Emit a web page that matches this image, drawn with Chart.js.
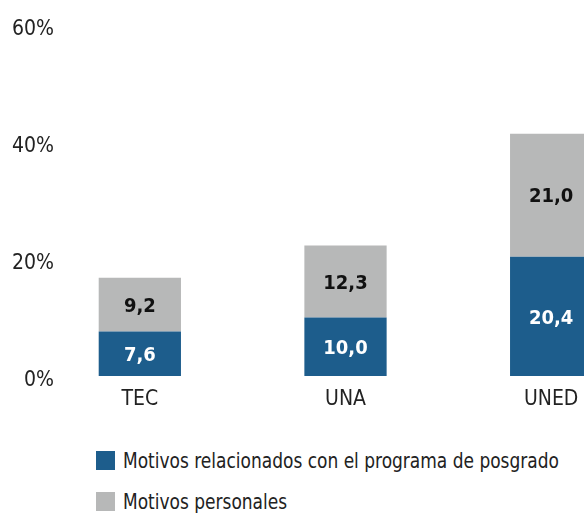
<!DOCTYPE html>
<html>
<head>
<meta charset="utf-8">
<script src="https://cdn.jsdelivr.net/npm/chart.js@4/dist/chart.umd.min.js"></script>
<style>
  html, body { margin: 0; padding: 0; background: #fff; overflow: hidden; }
  #wrap { position: relative; width: 584px; height: 516px; overflow: hidden; }
  #chart { position: absolute; left: 0; top: 0; }
  #legend { position: absolute; left: 96px; top: 448px; font-family: "DejaVu Sans Condensed", sans-serif; font-size: 22px; color: #222; }
  .item { display: flex; align-items: center; height: 25px; margin-bottom: 16px; white-space: nowrap; }
  .box { width: 19px; height: 19px; margin-right: 8px; flex: none; }
  .txt { display: inline-block; transform: scaleX(0.86); transform-origin: left center; }
</style>
</head>
<body>
<div id="wrap">
  <canvas id="chart" width="654" height="420"></canvas>
  <div id="legend"></div>
</div>
<script>
const categories = ['TEC', 'UNA', 'UNED'];
const programa = [7.6, 10.0, 20.4];
const personales = [9.2, 12.3, 21.0];
const seriesNames = ['Motivos relacionados con el programa de posgrado', 'Motivos personales'];
const yTicks = [0, 20, 40, 60];

const FONT = '"DejaVu Sans Condensed", sans-serif';
const TICK_SIZE = 21;

// widest y label, so the mirrored labels can be right-aligned
const mctx = document.createElement('canvas').getContext('2d');
mctx.font = TICK_SIZE + 'px ' + FONT;
const widestY = Math.max(...yTicks.map(v => mctx.measureText(v + '%').width));

// draws the value inside each stacked segment
const valueLabels = {
    id: 'valueLabels',
    afterDatasetsDraw(chart) {
        const ctx = chart.ctx;
        ctx.save();
        ctx.font = 'bold 20px ' + FONT;
        ctx.textAlign = 'center';
        ctx.textBaseline = 'middle';
        chart.data.datasets.forEach((ds, i) => {
            const meta = chart.getDatasetMeta(i);
            ctx.fillStyle = i === 0 ? '#ffffff' : '#111111';
            meta.data.forEach((bar, j) => {
                const y = (bar.y + bar.base) / 2 + 2;
                ctx.fillText(ds.data[j].toFixed(1).replace('.', ','), bar.x, y);
            });
        });
        ctx.restore();
    }
};

const chart = new Chart(document.getElementById('chart'), {
    type: 'bar',
    data: {
        labels: categories,
        datasets: [{
            label: seriesNames[0],
            data: programa,
            backgroundColor: '#1d5d8c',
        }, {
            label: seriesNames[1],
            data: personales,
            backgroundColor: '#b7b8b8',
        }]
    },
    options: {
        responsive: false,
        devicePixelRatio: 1,
        animation: false,
        layout: { padding: { top: 25, left: 0, right: 0, bottom: 0 } },
        datasets: { bar: { categoryPercentage: 1, barPercentage: 0.4 } },
        plugins: {
            legend: { display: false },
            tooltip: { enabled: false }
        },
        scales: {
            x: {
                stacked: true,
                grid: { display: false, drawTicks: false },
                border: { display: false },
                ticks: { padding: 11, color: '#222', font: { family: FONT, size: TICK_SIZE } },
                afterFit(scale) { scale.height = 44; }
            },
            y: {
                stacked: true,
                min: 0,
                max: 60,
                grid: { display: false, drawTicks: false },
                border: { display: false },
                afterBuildTicks(scale) { scale.ticks = yTicks.map(v => ({ value: v })); },
                afterFit(scale) { scale.width = 37; },
                ticks: {
                    mirror: true,
                    crossAlign: 'far',
                    padding: 17 - widestY,
                    labelOffset: 5,
                    color: '#222',
                    font: { family: FONT, size: TICK_SIZE },
                    callback: v => v + '%'
                }
            }
        }
    },
    plugins: [valueLabels]
});

// legend built from the datasets
const legend = document.getElementById('legend');
chart.data.datasets.forEach(ds => {
    const item = document.createElement('div');
    item.className = 'item';
    const box = document.createElement('span');
    box.className = 'box';
    box.style.background = ds.backgroundColor;
    const txt = document.createElement('span');
    txt.className = 'txt';
    txt.textContent = ds.label;
    item.appendChild(box);
    item.appendChild(txt);
    legend.appendChild(item);
});
</script>
</body>
</html>
